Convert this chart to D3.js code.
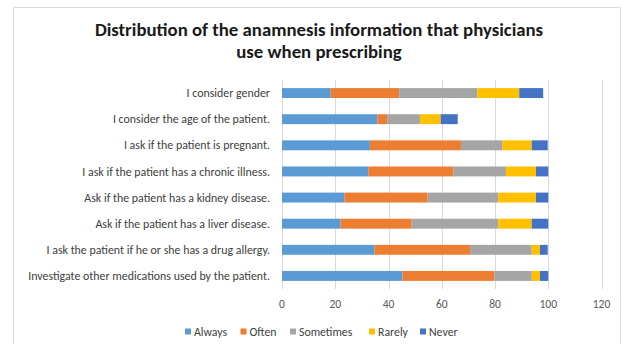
<!DOCTYPE html>
<html><head><meta charset="utf-8">
<script src="https://cdn.jsdelivr.net/npm/d3@7/dist/d3.min.js"></script>
<style>body{margin:0;background:#fff}svg{display:block}</style>
</head><body>
<svg id="c" width="624" height="344"></svg>
<script>
const categories = [
  "I consider gender",
  "I consider the age of the patient.",
  "I ask if the patient is pregnant.",
  "I ask if the patient has a chronic illness.",
  "Ask if the patient has a kidney disease.",
  "Ask if the patient has a liver disease.",
  "I ask the patient if he or she has a drug allergy.",
  "Investigate other medications used by the patient."
];
const seriesNames = ["Always", "Often", "Sometimes", "Rarely", "Never"];
const always    = [18.3, 35.8, 33.0, 32.4, 23.4, 22.0, 34.7, 45.3];
const often     = [25.7,  3.7, 34.2, 31.9, 31.3, 26.7, 35.9, 34.4];
const sometimes = [29.3, 12.3, 15.5, 19.8, 26.5, 32.5, 23.2, 14.1];
const rarely    = [15.8,  7.8, 11.1, 11.3, 14.2, 12.6,  3.1,  3.1];
const never     = [ 9.0,  6.4,  6.0,  4.6,  4.6,  6.2,  2.9,  3.1];
const xTicks = [0, 20, 40, 60, 80, 100, 120];
const colors = ["#5B9BD5", "#ED7D31", "#A5A5A5", "#FFC000", "#4472C4"];

const seriesVals = [always, often, sometimes, rarely, never];
const rows = categories.map((c, i) => {
  const r = {cat: c};
  seriesNames.forEach((s, j) => r[s] = seriesVals[j][i]);
  return r;
});
const stack = d3.stack().keys(seriesNames)(rows);

const svg = d3.select("#c");
const font = "Calibri, Carlito, Lato, sans-serif";

// chart border
svg.append("path").attr("d", "M13.5,350 V7.5 H620.5 V350")
  .attr("fill", "none").attr("stroke", "#d9d9d9").attr("stroke-width", 1);

const x = d3.scaleLinear().domain([0, 120]).range([282, 601.5]);
const y = d3.scaleBand().domain(categories).range([80, 289]).paddingInner(0.62).paddingOuter(0.31);

// gridlines
svg.append("g").selectAll("line").data(xTicks).join("line")
  .attr("x1", d => Math.round(x(d)) + 0.5).attr("x2", d => Math.round(x(d)) + 0.5)
  .attr("y1", 80).attr("y2", 289)
  .attr("stroke", "#d9d9d9").attr("stroke-width", 1);

// bars
svg.append("g").selectAll("g").data(stack).join("g")
  .attr("fill", (d, i) => colors[i])
  .selectAll("rect").data(d => d).join("rect")
  .attr("x", d => x(d[0])).attr("width", d => x(d[1]) - x(d[0]))
  .attr("y", d => y(d.data.cat)).attr("height", y.bandwidth());

// category labels
svg.append("g").selectAll("text").data(categories).join("text")
  .attr("x", 270).attr("y", d => y(d) + y.bandwidth() / 2)
  .attr("dy", "0.35em").attr("text-anchor", "end")
  .attr("font-family", font).attr("font-size", 11.9).attr("fill", "#404040")
  .text(d => d);

// x axis labels
svg.append("g").selectAll("text").data(xTicks).join("text")
  .attr("x", d => x(d)).attr("y", 304).attr("dy", "0.35em")
  .attr("text-anchor", "middle")
  .attr("font-family", font).attr("font-size", 11.5).attr("fill", "#595959")
  .text(d => d);

// title
const title = svg.append("text").attr("text-anchor", "middle")
  .attr("font-family", font).attr("font-weight", "bold").attr("font-size", 18.8).attr("fill", "#1a1a1a");
title.append("tspan").attr("x", 319).attr("y", 36).text("Distribution of the anamnesis information that physicians");
title.append("tspan").attr("x", 319).attr("y", 58).text("use when prescribing");

// legend
const legendX = [185, 240.5, 290, 369, 420];
const lg = svg.append("g").selectAll("g").data(seriesNames).join("g")
  .attr("transform", (d, i) => `translate(${legendX[i]},331.5)`);
lg.append("rect").attr("x", 0).attr("y", -3).attr("width", 6).attr("height", 6)
  .attr("fill", (d, i) => colors[i]);
lg.append("text").attr("x", 9).attr("y", 0).attr("dy", "0.35em")
  .attr("font-family", font).attr("font-size", 11.8).attr("fill", "#404040")
  .text(d => d);
</script>
</body></html>
